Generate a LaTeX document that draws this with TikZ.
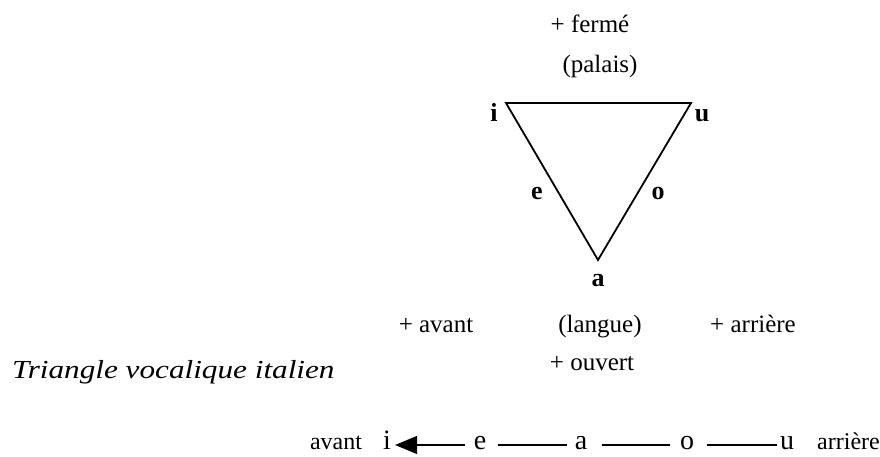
\documentclass[tikz,border=0pt]{standalone}
\usepackage{fontspec}
\setmainfont{Liberation Serif}
\usetikzlibrary{arrows.meta}
\tikzset{
  lbl/.style={inner sep=0pt, anchor=base, font=\fontsize{25}{28}\selectfont},
  vtx/.style={inner sep=0pt, anchor=base, font=\fontsize{26}{30}\selectfont\bfseries},
  vow/.style={inner sep=0pt, anchor=base, font=\fontsize{28}{32}\selectfont},
  side/.style={inner sep=0pt, anchor=base, font=\fontsize{24}{28}\selectfont},
  tri/.style={line width=1.8pt, line join=miter},
  link/.style={line width=1.2pt},
  arr/.style={line width=1.2pt, -{Triangle[length=22pt,width=18pt]}}
}
\begin{document}
\begin{tikzpicture}[x=1pt,y=-1pt]
\useasboundingbox (0,0) rectangle (880,457);
% triangle
\coordinate (ti) at (506,103);
\coordinate (tu) at (691,103);
\coordinate (ta) at (598,260);
\draw[tri] (ti) -- (tu) -- (ta) -- cycle;
% top labels
\node[lbl] (ferme) at (590,33) {+ fermé};
\node[lbl] (palais) at (600,73) {(palais)};
% vertex labels
\node[vtx] (li) at (494,122) {i};
\node[vtx] (lu) at (702,122) {u};
\node[vtx] (le) at (537,200) {e};
\node[vtx] (lo) at (658,200) {o};
\node[vtx] (la) at (598,286) {a};
% lower labels
\node[lbl] (avant) at (436,332) {+ avant};
\node[lbl] (langue) at (600,332) {(langue)};
\node[lbl] (arriere) at (753,332) {+ arrière};
\node[lbl] (ouvert) at (592,370) {+ ouvert};
\node[inner sep=0pt, anchor=base west] (title) at (12,378)
  {\scalebox{1.2}[1]{\fontsize{26}{30}\selectfont\itshape Triangle vocalique italien}};
% bottom row
\node[side] (bav) at (336,449) {avant};
\node[vow] (bi) at (387,449) {i};
\node[vow] (be) at (480,449) {e};
\node[vow] (ba) at (581,449) {a};
\node[vow] (bo) at (687,449) {o};
\node[vow] (bu) at (787,449) {u};
\node[side] (bar) at (848.5,449) {arrière};
\draw[arr] ([xshift=-8.8pt,yshift=4pt]be.base west) -- ([xshift=4pt,yshift=4pt]bi.base east);
\draw[link] ([xshift=11.8pt,yshift=4pt]be.base east) -- ([xshift=-7.8pt,yshift=4pt]ba.base west);
\draw[link] ([xshift=14.8pt,yshift=4pt]ba.base east) -- ([xshift=-10pt,yshift=4pt]bo.base west);
\draw[link] ([xshift=13pt,yshift=4pt]bo.base east) -- ([xshift=-3pt,yshift=4pt]bu.base west);
\end{tikzpicture}
\end{document}
